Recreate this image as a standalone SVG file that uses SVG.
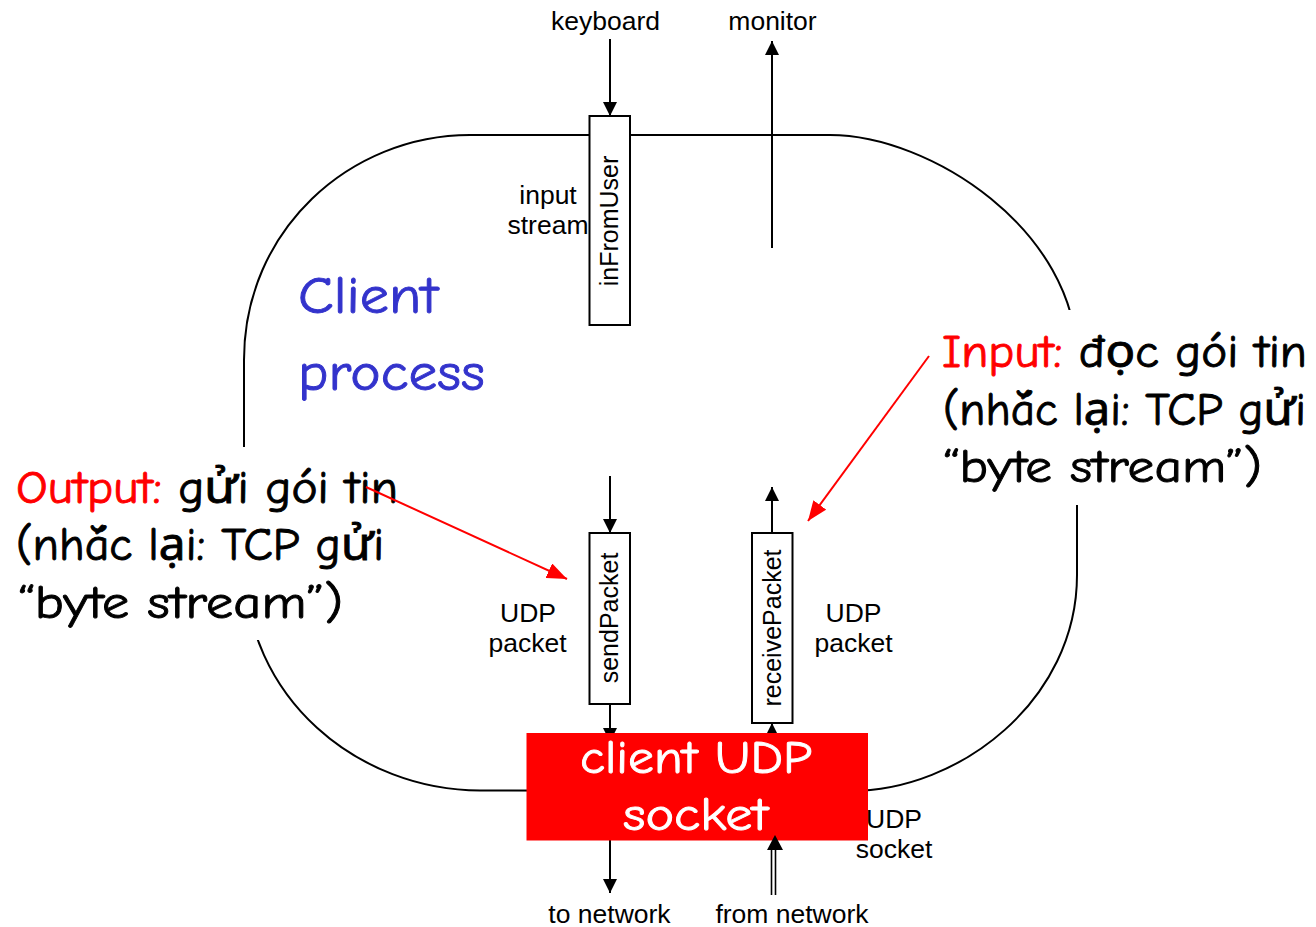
<svg xmlns="http://www.w3.org/2000/svg" width="1316" height="927" viewBox="0 0 1316 927">
<defs>
<style>
.lbl{font-family:"Liberation Sans",Arial,sans-serif;font-size:26.5px;fill:#000;text-anchor:middle}
.vlbl{font-family:"Liberation Sans",Arial,sans-serif;font-size:25px;fill:#000;text-anchor:middle}
.comic{font-family:"Comic Sans MS","Comic Neue","Noto Sans",sans-serif;font-size:46px;fill:#000;stroke:#000;stroke-width:0.9}
.red{fill:#FF0000;stroke:#FF0000}
.big{font-family:"Comic Sans MS","Comic Neue","Noto Sans",sans-serif;font-size:52px;fill:#3333CC;stroke:#3333CC;stroke-width:0.9}
.sock{font-family:"Comic Sans MS","Comic Neue","Noto Sans",sans-serif;font-size:47px;fill:#fff;stroke:#fff;stroke-width:0.9;text-anchor:middle}
.ln{stroke:#000;stroke-width:2;fill:none}
.rln{stroke:#FF0000;stroke-width:2;fill:none}
.box{fill:#fff;stroke:#000;stroke-width:2}
</style>
<marker id="ah" markerUnits="userSpaceOnUse" markerWidth="14" markerHeight="14" refX="14" refY="7" orient="auto">
<path d="M0,0 L14,7 L0,14 Z" fill="#000"/>
</marker>
<marker id="rah" markerUnits="userSpaceOnUse" markerWidth="20" markerHeight="16" refX="20" refY="8" orient="auto">
<path d="M0,0 L20,8 L0,16 Z" fill="#FF0000"/>
</marker>
</defs>
<rect width="1316" height="927" fill="#fff"/>
<g id="loop">
<path class="ln" stroke-width="1.6" d="M470,135 L830,135 C930,135 1077,230 1077,360 L1077,575 C1077,700 960,791 850,791 L480,790.5 C360,790.5 244,700 244,560 L244,360 C244,230 350,135 470,135 Z"/>
<rect x="6" y="447" width="398" height="193" fill="#fff"/>
<rect x="935" y="310" width="381" height="195" fill="#fff"/>
</g>
<g id="connectors">
<line class="ln" x1="610" y1="39" x2="610" y2="116" marker-end="url(#ah)"/>
<line class="ln" x1="772" y1="248" x2="772" y2="41" marker-end="url(#ah)"/>
<line class="ln" x1="610" y1="476" x2="610" y2="533" marker-end="url(#ah)"/>
<line class="ln" x1="610" y1="704" x2="610" y2="742" marker-end="url(#ah)"/>
<line class="ln" x1="772" y1="533" x2="772" y2="487" marker-end="url(#ah)"/>
<line class="ln" x1="772" y1="745" x2="772" y2="723" marker-end="url(#ah)"/>
<line class="ln" x1="610" y1="840" x2="610" y2="893" marker-end="url(#ah)"/>
</g>
<g id="inFromUser">
<rect class="box" x="589.5" y="116" width="40.5" height="209"/>
<text class="vlbl" transform="translate(618,221) rotate(-90)">inFromUser</text>
</g>
<g id="sendPacket">
<rect class="box" x="589.5" y="533" width="40.5" height="171"/>
<text class="vlbl" transform="translate(618,618) rotate(-90)">sendPacket</text>
</g>
<g id="receivePacket">
<rect class="box" x="752" y="533" width="40.5" height="190"/>
<text class="vlbl" transform="translate(781,628) rotate(-90)">receivePacket</text>
</g>
<g id="socket">
<rect x="526.5" y="733" width="341.5" height="107.5" fill="#FF0000"/>
<text class="sock" x="696" y="773" textLength="232" lengthAdjust="spacingAndGlyphs">client UDP</text>
<text class="sock" x="695.5" y="830" textLength="145" lengthAdjust="spacingAndGlyphs">socket</text>
</g>
<g id="from-network">
<line stroke="#000" stroke-width="1.6" x1="771.5" y1="895" x2="771.5" y2="848"/>
<line stroke="#000" stroke-width="1.6" x1="775.5" y1="895" x2="775.5" y2="848"/>
<path d="M767,850 L775,835 L783,850 Z" fill="#000"/>
</g>
<g id="labels">
<text class="lbl" x="605.5" y="29.5">keyboard</text>
<text class="lbl" x="772.5" y="29.5">monitor</text>
<text class="lbl" x="548" y="204">input</text>
<text class="lbl" x="548" y="234">stream</text>
<text class="lbl" x="528" y="622">UDP</text>
<text class="lbl" x="527.5" y="652">packet</text>
<text class="lbl" x="853.5" y="622">UDP</text>
<text class="lbl" x="853.5" y="652">packet</text>
<text class="lbl" x="894" y="828">UDP</text>
<text class="lbl" x="894" y="858">socket</text>
<text class="lbl" x="609.5" y="923">to network</text>
<text class="lbl" x="792" y="923">from network</text>
</g>
<g id="client-process">
<text class="big" x="298" y="313" textLength="140" lengthAdjust="spacingAndGlyphs">Client</text>
<text class="big" x="298" y="390" textLength="187" lengthAdjust="spacingAndGlyphs">process</text>
</g>
<g id="output-note">
<text class="comic" x="16" y="503" textLength="382" lengthAdjust="spacingAndGlyphs"><tspan class="red">Output:</tspan> gửi gói tin</text>
<text class="comic" x="16" y="560" textLength="368" lengthAdjust="spacingAndGlyphs">(nhắc lại: TCP gửi</text>
<text class="comic" x="18" y="618" textLength="325" lengthAdjust="spacingAndGlyphs">“byte stream”)</text>
</g>
<g id="input-note">
<text class="comic" x="942" y="367" textLength="365" lengthAdjust="spacingAndGlyphs"><tspan class="red">Input:</tspan> đọc gói tin</text>
<text class="comic" x="943" y="425" textLength="363" lengthAdjust="spacingAndGlyphs">(nhắc lại: TCP gửi</text>
<text class="comic" x="943" y="482" textLength="319" lengthAdjust="spacingAndGlyphs">“byte stream”)</text>
</g>
<g id="red-arrows">
<line class="rln" x1="366" y1="487" x2="567" y2="579" marker-end="url(#rah)"/>
<line class="rln" x1="929" y1="356" x2="808" y2="521" marker-end="url(#rah)"/>
</g>
</svg>
